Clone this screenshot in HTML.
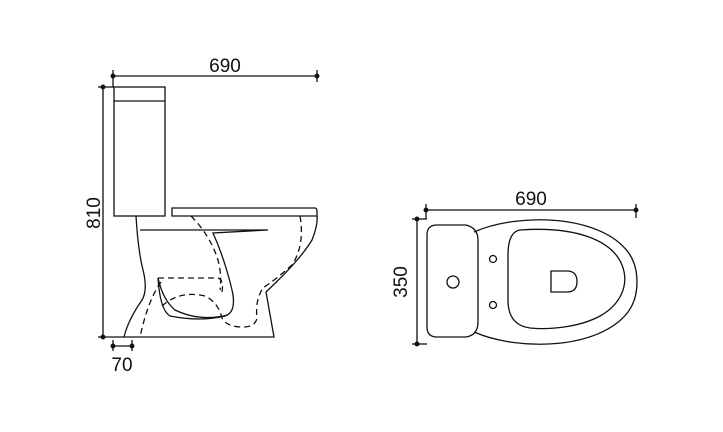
<!DOCTYPE html>
<html><head><style>
body{margin:0;background:#fff;}
svg{display:block}
text{font-family:"Liberation Sans",sans-serif;font-size:19px;fill:#111}
</style></head><body>
<svg width="723" height="432" viewBox="0 0 723 432" fill="none" stroke="#111" stroke-width="1.3">
<line x1="113" y1="76" x2="317" y2="76"/>
<line x1="113" y1="70" x2="113" y2="87"/>
<line x1="317" y1="70" x2="317" y2="82"/>
<circle cx="113" cy="76" r="1.8" fill="#111"/><circle cx="317" cy="76" r="1.8" fill="#111"/>
<text x="225" y="72" text-anchor="middle" stroke="none">690</text>
<line x1="103" y1="87" x2="103" y2="337"/>
<line x1="98" y1="87" x2="114" y2="87"/>
<line x1="98" y1="337" x2="124" y2="337"/>
<circle cx="103" cy="87" r="1.8" fill="#111"/><circle cx="103" cy="337" r="1.8" fill="#111"/>
<text transform="translate(100,213) rotate(-90)" text-anchor="middle" stroke="none">810</text>
<line x1="113" y1="346" x2="132" y2="346"/>
<line x1="113" y1="340" x2="113" y2="351"/><line x1="132" y1="340" x2="132" y2="351"/>
<circle cx="113" cy="346" r="1.8" fill="#111"/><circle cx="132" cy="346" r="1.8" fill="#111"/>
<text x="122" y="371" text-anchor="middle" stroke="none">70</text>
<rect x="114" y="87" width="51" height="129"/>
<line x1="114" y1="101" x2="165" y2="101"/>
<path d="M172 208 H315 Q317 208 317 212 V216 H172 Z"/>
<path d="M136 216 Q138 250 143 270 Q148 290 142 300 Q128 320 124 337 H274 L266 292 Q300 260 312 240 Q318 225 317 216"/>
<path d="M140 230 H268 L213 233 Q225 260 232 290 Q237 312 225 316 Q200 322 170 316 Q160 310 158 278"/>
<path d="M158 278 Q163 300 175 310 Q200 322 228 315"/>
<g stroke-dasharray="6,4">
<path d="M191 216 Q210 235 218 260 Q222 275 220 290"/>
<path d="M158 278 H218 Q224 280 222 292"/>
<path d="M161 282 Q148 300 140 337"/>
<path d="M162 306 Q180 290 205 296 Q218 302 222 318 Q226 326 240 327 Q255 328 257 318 Q255 300 263 288 Q275 280 292 265 Q305 245 300 216"/>
</g>
<line x1="426" y1="210" x2="636" y2="210"/>
<line x1="426" y1="204" x2="426" y2="219"/><line x1="636" y1="204" x2="636" y2="218"/>
<circle cx="426" cy="210" r="1.8" fill="#111"/><circle cx="636" cy="210" r="1.8" fill="#111"/>
<text x="531" y="205" text-anchor="middle" stroke="none">690</text>
<line x1="417" y1="219" x2="417" y2="344"/>
<line x1="412" y1="219" x2="427" y2="219"/><line x1="412" y1="344" x2="427" y2="344"/>
<circle cx="417" cy="219" r="1.8" fill="#111"/><circle cx="417" cy="344" r="1.8" fill="#111"/>
<text transform="translate(407,282) rotate(-90)" text-anchor="middle" stroke="none">350</text>
<path d="M437 225 H466 Q478 228 478 240 V322 Q478 335 466 337 H437 Q427 337 427 327 V235 Q427 225 437 225 Z"/>
<circle cx="453" cy="282" r="6"/>
<path d="M474 232 C520 212 600 215 628 252 C640 268 640 296 628 312 C600 349 520 352 474 332"/>
<path d="M520 230 C575 226 612 240 622 265 C630 285 620 305 600 316 C580 327 550 330 530 328 Q508 325 508 300 V255 Q508 232 520 230 Z"/>
<circle cx="493" cy="259" r="3.5"/><circle cx="493" cy="305" r="3.5"/>
<path d="M551 271 H567 Q577 271 577 281.5 Q577 292 567 292 H551 Z"/>
</svg>
</body></html>
